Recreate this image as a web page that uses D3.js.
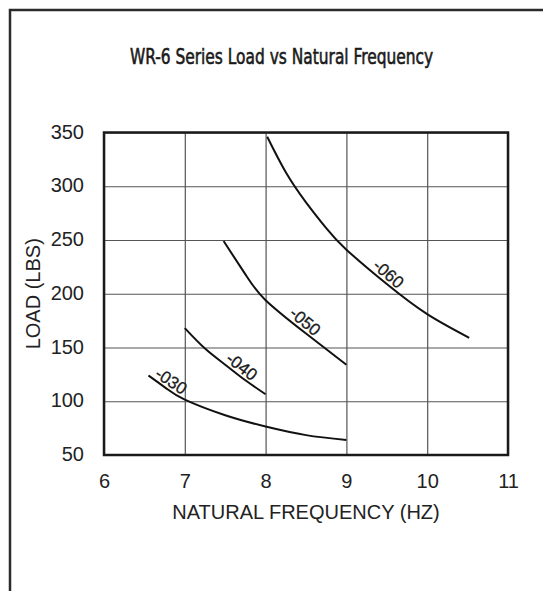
<!DOCTYPE html>
<html>
<head>
<meta charset="utf-8">
<script src="https://cdn.jsdelivr.net/npm/d3@7"></script>
<style>
  body { margin: 0; background: #fff; }
  text { font-family: "Liberation Sans", Arial, sans-serif; fill: #222; }
</style>
</head>
<body>
<svg id="chart"></svg>
<script>
// values
const xTicks = [6, 7, 8, 9, 10, 11]
const yTicks = [50, 100, 150, 200, 250, 300, 350]

const seriesNames = ['-030', '-040', '-050', '-060']
const freq030 = [6.55, 6.77, 7, 7.5, 8, 8.5, 9]
const load030 = [124, 112, 101.5, 87, 76.5, 68.5, 64]
const freq040 = [7, 7.25, 7.5, 7.75, 8]
const load040 = [168, 149, 134, 119.5, 106.5]
const freq050 = [7.48, 7.75, 8, 8.5, 9]
const load050 = [249, 218, 194, 163, 134]
const freq060 = [8.02, 8.25, 8.5, 8.75, 9, 9.5, 10, 10.52]
const load060 = [346, 313, 285, 261, 241, 209, 181, 159]
// where along each curve its label sits (frequency)
const labelFreq = [6.77, 7.64, 8.42, 9.45]

const W = 543, H = 591
const margin = {left: 104, top: 132.5, right: 35, bottom: 136}

let svg = d3.select('#chart')
  .attr('width', W)
  .attr('height', H)

const xScale = d3.scaleLinear()
  .domain([6, 11])
  .range([margin.left, W - margin.right])

const yScale = d3.scaleLinear()
  .domain([50, 350])
  .range([H - margin.bottom, margin.top])

const plotW = xScale(11) - xScale(6)
const plotH = yScale(50) - yScale(350)

// outer frame (left + top only)
svg.append('path')
  .attr('d', `M10,${H} V10 H${W}`)
  .attr('fill', 'none')
  .attr('stroke', '#2b2b2b')
  .attr('stroke-width', 2.5)

// title: condensed face, squeezed a little more to match
let title = svg.append('text')
  .attr('transform', 'translate(281.5,64) scale(0.78,1)')
  .attr('text-anchor', 'middle')
  .style('font-family', '"DejaVu Sans Condensed", "Liberation Sans Narrow", sans-serif')
  .style('font-size', '22px')
  .style('fill', '#1a1a1a')
  .style('stroke', '#1a1a1a')
  .style('stroke-width', 0.6)
  .text('WR-6 Series Load vs Natural Frequency')

// grid + tick labels
let gx = svg.append('g')
  .attr('transform', `translate(0,${yScale(50)})`)
  .call(d3.axisBottom(xScale).tickValues(xTicks).tickFormat(d3.format('d'))
    .tickSize(-plotH).tickSizeOuter(0).tickPadding(19))
gx.select('.domain').remove()
gx.selectAll('line').attr('stroke', '#555').attr('stroke-width', 1.2)
gx.selectAll('text').style('font-size', '20px').attr('fill', '#222')

let gy = svg.append('g')
  .attr('transform', `translate(${xScale(6)},0)`)
  .call(d3.axisLeft(yScale).tickValues(yTicks).tickFormat(d3.format('d'))
    .tickSize(-plotW).tickSizeOuter(0).tickPadding(20))
gy.select('.domain').remove()
gy.selectAll('line').attr('stroke', '#555').attr('stroke-width', 1.2)
gy.selectAll('text').style('font-size', '20px').attr('fill', '#222').attr('dy', '0.28em')

// plot border
svg.append('rect')
  .attr('x', xScale(6))
  .attr('y', yScale(350))
  .attr('width', plotW)
  .attr('height', plotH)
  .attr('fill', 'none')
  .attr('stroke', '#1a1a1a')
  .attr('stroke-width', 2.5)

// curves
const allSeries = [
  {name: seriesNames[0], f: freq030, l: load030, lf: labelFreq[0]},
  {name: seriesNames[1], f: freq040, l: load040, lf: labelFreq[1]},
  {name: seriesNames[2], f: freq050, l: load050, lf: labelFreq[2]},
  {name: seriesNames[3], f: freq060, l: load060, lf: labelFreq[3]}
]

const line = d3.line()
  .x(d => xScale(d[0]))
  .y(d => yScale(d[1]))
  .curve(d3.curveNatural)

allSeries.forEach(s => {
  let pts = s.f.map((v, i) => [v, s.l[i]])
  svg.append('path')
    .attr('d', line(pts))
    .attr('fill', 'none')
    .attr('stroke', '#111')
    .attr('stroke-width', 2)

  // label on the curve, turned to follow it
  let ly = d3.scaleLinear().domain(s.f).range(s.l)
  let px = xScale(s.lf), py = yScale(ly(s.lf))
  let px2 = xScale(s.lf + 0.05), py2 = yScale(ly(s.lf + 0.05))
  let px1 = xScale(s.lf - 0.05), py1 = yScale(ly(s.lf - 0.05))
  let ang = Math.atan2(py2 - py1, px2 - px1) * 180 / Math.PI
  svg.append('text')
    .attr('transform', `translate(${px},${py}) rotate(${ang}) translate(0,-3)`)
    .attr('text-anchor', 'middle')
    .style('font-size', '17px')
    .style('stroke', '#111')
    .style('stroke-width', 0.3)
    .attr('fill', '#111')
    .text(s.name)
})

// axis titles
svg.append('text')
  .attr('x', (xScale(6) + xScale(11)) / 2)
  .attr('y', 519)
  .attr('text-anchor', 'middle')
  .style('font-size', '20px')
  .text('NATURAL FREQUENCY (HZ)')

svg.append('text')
  .attr('transform', `translate(40,${(yScale(50) + yScale(350)) / 2}) rotate(-90)`)
  .attr('text-anchor', 'middle')
  .style('font-size', '20px')
  .text('LOAD (LBS)')
</script>
</body>
</html>
